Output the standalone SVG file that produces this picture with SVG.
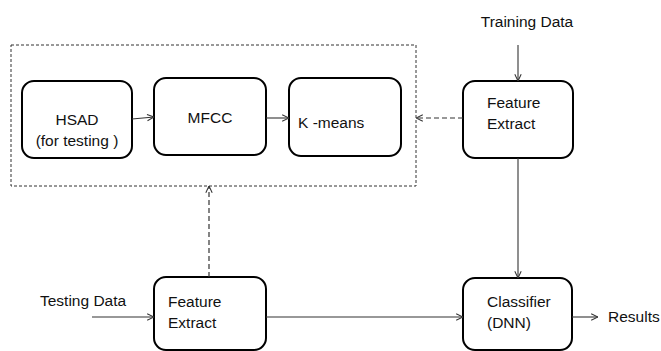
<svg xmlns="http://www.w3.org/2000/svg" width="661" height="351" viewBox="0 0 661 351">
<style>
.box{fill:#fff;stroke:#000;stroke-width:2}
.t{font-family:"Liberation Sans",Arial,sans-serif;font-size:15.5px;fill:#111}
.c{stroke:#333;stroke-width:1.1;fill:none}
.d{stroke:#333;stroke-width:1;fill:none;stroke-dasharray:3,2}
.d2{stroke:#333;stroke-width:1.2;fill:none;stroke-dasharray:5,3}
</style>
<defs>
<marker id="a" viewBox="0 0 10 10" refX="9.5" refY="5" markerWidth="8" markerHeight="8" markerUnits="userSpaceOnUse" orient="auto">
<path d="M1,1 L9.5,5 L1,9" fill="none" stroke="#333" stroke-width="1.3"/>
</marker>
</defs>
<rect width="661" height="351" fill="#fff"/>
<g id="group-box">
<rect x="11" y="45" width="405" height="141" class="d"/>
</g>
<g id="hsad">
<rect x="22" y="81" width="110" height="77" rx="12" class="box"/>
<text class="t" x="77" y="125" text-anchor="middle">HSAD</text>
<text class="t" x="77" y="146" text-anchor="middle">(for testing )</text>
</g>
<g id="mfcc">
<rect x="154" y="78" width="112" height="77" rx="12" class="box"/>
<text class="t" x="210" y="123" text-anchor="middle">MFCC</text>
</g>
<g id="kmeans">
<rect x="289" y="78" width="112" height="78" rx="12" class="box"/>
<text class="t" x="298" y="128">K -means</text>
</g>
<g id="feature-top">
<rect x="463" y="81" width="110" height="77" rx="12" class="box"/>
<text class="t" x="487" y="108">Feature</text>
<text class="t" x="487" y="129">Extract</text>
</g>
<g id="feature-bottom">
<rect x="154" y="277" width="112" height="73" rx="12" class="box"/>
<text class="t" x="168" y="307">Feature</text>
<text class="t" x="168" y="328">Extract</text>
</g>
<g id="classifier">
<rect x="463" y="278" width="109" height="72" rx="12" class="box"/>
<text class="t" x="487" y="307">Classifier</text>
<text class="t" x="487" y="328">(DNN)</text>
</g>
<g id="labels">
<text class="t" x="527" y="27" text-anchor="middle">Training Data</text>
<text class="t" x="40" y="306">Testing Data</text>
<text class="t" x="608" y="322">Results</text>
</g>
<g id="connectors">
<line x1="518" y1="45" x2="518" y2="81" class="c" marker-end="url(#a)"/>
<line x1="132" y1="119" x2="154" y2="117" class="c" marker-end="url(#a)"/>
<line x1="266" y1="118" x2="289" y2="118" class="c" marker-end="url(#a)"/>
<line x1="463" y1="118" x2="416" y2="118" class="d2" marker-end="url(#a)"/>
<line x1="518" y1="158" x2="518" y2="278" class="c" marker-end="url(#a)"/>
<line x1="209" y1="277" x2="209" y2="186" class="d2" marker-end="url(#a)"/>
<line x1="92" y1="317" x2="154" y2="317" class="c" marker-end="url(#a)"/>
<line x1="266" y1="317" x2="463" y2="317" class="c" marker-end="url(#a)"/>
<line x1="572" y1="317" x2="598" y2="317" class="c" marker-end="url(#a)"/>
</g>
</svg>
